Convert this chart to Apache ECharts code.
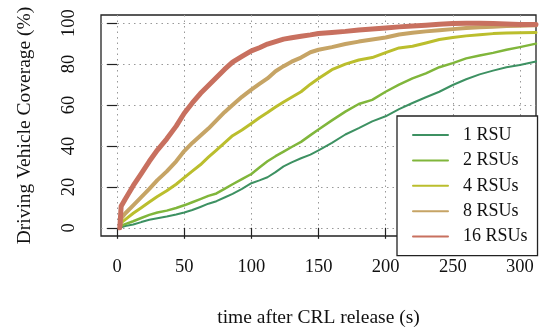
<!DOCTYPE html>
<html>
<head>
<meta charset="utf-8">
<script src="https://cdn.jsdelivr.net/npm/echarts@6/dist/echarts.min.js"></script>
<style>
    html, body { margin: 0; padding: 0; background: #fff; }
    #chart { width: 541px; height: 333px; }
</style>
</head>
<body>
<div id="chart"></div>
<script>
// time after CRL release (s)
const times = [2, 3, 6, 12, 18, 24, 30, 37, 44, 50, 56, 62, 68, 74, 80, 86, 93, 100, 106, 112, 118, 124, 130, 137, 144, 150,
    160, 170, 180, 190, 200, 210, 220, 230, 240, 250, 260, 270, 280, 290, 300, 312];

// coverage (%) per RSU count
const rsu1 = [0, 0.5, 0.9, 1.6, 2.8, 3.9, 4.7, 5.5, 6.5, 7.5, 8.7, 10.2, 11.8, 13, 14.8, 16.6, 19, 21.8, 23.2, 24.7, 27.2, 30, 32, 34, 35.8, 37.8,
    41.5, 45.6, 48.7, 52, 54.5, 58, 61, 63.8, 66.5, 69.8, 72.6, 75, 76.8, 78.5, 79.6, 81.3];
const rsu2 = [0, 1, 1.8, 3.2, 4.8, 6.3, 7.5, 8.4, 9.7, 11, 12.5, 14, 15.6, 16.8, 19, 21.3, 23.8, 26.3, 29.5, 32.5, 35, 37.2, 39.5, 42, 45.3, 48,
    52.5, 56.8, 60.5, 62.5, 66.5, 70, 73, 75.5, 78.5, 80.5, 82.8, 84.2, 85.5, 87, 88.3, 90];
const rsu4 = [0, 2.5, 4, 7.1, 9.8, 12.6, 15.3, 18.1, 21.3, 24.5, 27.7, 30.8, 34.5, 38, 41.5, 45, 47.8, 51, 53.8, 56.3, 59, 61.5, 63.8, 66.5, 70.2, 73,
    77.3, 80, 82, 83.2, 85.6, 87.9, 88.7, 90.3, 92, 93, 93.8, 94.4, 94.9, 95.2, 95.3, 95.4];
const rsu8 = [0, 4.5, 7, 11, 15, 19, 23.3, 27.6, 32.5, 37.5, 41.5, 45, 48.5, 52.5, 56.5, 60, 64, 67.5, 70.3, 73, 76.5, 79, 81.2, 83.2, 85.8, 87,
    88.3, 89.8, 91, 92, 93, 94.5, 95.3, 96, 96.6, 97.1, 97.6, 98, 98.3, 98.6, 98.8, 99];
const rsu16 = [0, 10.5, 14, 20.6, 26.5, 32.5, 38, 43.5, 49.7, 56, 61, 65.6, 69.5, 73.5, 77.4, 81, 83.8, 86.5, 88, 89.8, 91, 92.2, 92.9, 93.6, 94.3, 95,
    95.5, 96, 96.7, 97.2, 97.7, 98.2, 98.6, 99, 99.5, 99.9, 100, 100, 99.8, 99.6, 99.4, 99.3];

const seriesNames = ['1 RSU', '2 RSUs', '4 RSUs', '8 RSUs', '16 RSUs'];
const xTicks = [0, 50, 100, 150, 200, 250, 300];
const yTicks = [0, 20, 40, 60, 80, 100];

const seriesValues = [rsu1, rsu2, rsu4, rsu8, rsu16];
const colors = ['#3d9162', '#80b63b', '#bbbe2d', '#c6a465', '#c8705f'];
const widths = [2, 2.5, 3, 4, 5];
const font = 'Liberation Serif';

const chart = echarts.init(document.getElementById('chart'));

const option = {
    animation: false,
    grid: {
        left: 101,
        right: 5,
        top: 15,
        bottom: 90,
        show: true,
        borderColor: '#222',
        borderWidth: 1.3
    },
    legend: {
        data: seriesNames,
        orient: 'vertical',
        left: 397,
        top: 116,
        padding: [10, 10, 10, 15],
        itemWidth: 35,
        itemHeight: 14,
        itemGap: 7.4,
        borderColor: '#222',
        borderWidth: 1.3,
        borderRadius: 0,
        backgroundColor: '#fff',
        // hide the symbol drawn in the middle of the line icon
        itemStyle: { color: 'rgba(0,0,0,0)', borderWidth: 0 },
        textStyle: {
            fontFamily: font,
            fontSize: 18,
            color: '#111',
            padding: [0, 0, 0, 10]
        }
    },
    xAxis: {
        type: 'value',
        min: -12,
        max: 312,
        name: 'time after CRL release (s)',
        nameLocation: 'middle',
        nameGap: 72,
        nameTextStyle: { fontFamily: font, fontSize: 19.5, color: '#111' },
        axisLine: { show: false },
        axisTick: {
            customValues: xTicks,
            length: 11,
            lineStyle: { color: '#222', width: 1.2 }
        },
        axisLabel: {
            customValues: xTicks,
            fontFamily: font,
            fontSize: 18.5,
            color: '#111',
            margin: 22
        },
        splitLine: {
            show: true,
            lineStyle: { color: '#999', type: [1.5, 4], width: 1 }
        }
    },
    yAxis: {
        type: 'value',
        min: -4,
        max: 104,
        name: 'Driving Vehicle Coverage (%)',
        nameLocation: 'middle',
        nameGap: 66,
        nameTextStyle: { fontFamily: font, fontSize: 19.5, color: '#111' },
        axisLine: { show: false },
        axisTick: {
            customValues: yTicks,
            length: 10,
            lineStyle: { color: '#222', width: 1.2 }
        },
        axisLabel: {
            customValues: yTicks,
            rotate: 90,
            fontFamily: font,
            fontSize: 18.5,
            color: '#111',
            margin: 22
        },
        splitLine: {
            show: true,
            lineStyle: { color: '#999', type: [1.5, 4], width: 1 }
        }
    },
    series: seriesNames.map((name, i) => ({
        name: name,
        type: 'line',
        symbol: 'none',
        clip: true,
        data: times.map((t, j) => [t, seriesValues[i][j]]),
        lineStyle: { color: colors[i], width: widths[i], cap: 'round', join: 'round' },
        itemStyle: { color: colors[i] }
    }))
};

chart.setOption(option);
</script>
</body>
</html>
